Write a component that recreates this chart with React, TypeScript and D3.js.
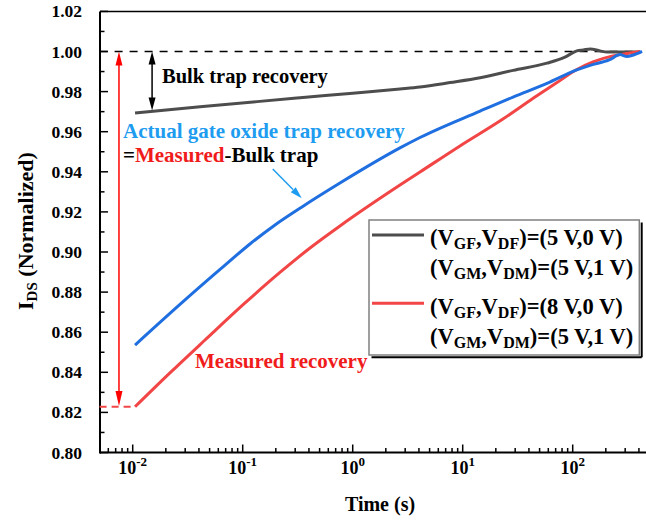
import React from 'react';
import * as d3 from 'd3';

// ---- Data (time in s, normalized I_DS) ----
const blackT = [0.0105, 0.041, 0.135, 0.332, 1.0, 2.69, 4.09, 7.67, 14.4, 28.7, 58.4, 85, 109, 125, 144, 177, 205, 269, 409];
const blackV = [0.9693, 0.9724, 0.975, 0.9769, 0.9792, 0.9813, 0.9823, 0.9845, 0.9869, 0.9906, 0.9942, 0.9972, 1.0003, 1.0008, 1.0013, 1.0003, 0.9997, 0.9998, 0.9997];

const blueT = [0.0105, 0.0299, 0.0622, 0.1164, 0.1966, 0.3458, 0.766, 2.69, 4.09, 14.4, 28.7, 58.4, 109, 144, 217, 269, 312, 384, 427];
const blueV = [0.8536, 0.8761, 0.8913, 0.904, 0.9135, 0.9225, 0.9344, 0.9519, 0.9571, 0.9703, 0.9773, 0.9841, 0.9908, 0.9931, 0.9959, 0.9985, 0.9975, 0.9989, 1.0001];

const redT = [0.0105, 0.0218, 0.0454, 0.105, 0.218, 0.409, 0.766, 1.436, 2.69, 4.09, 9.45, 23.2, 40.9, 72, 109, 153, 232, 312, 409];
const redV = [0.8228, 0.8397, 0.8561, 0.8746, 0.8898, 0.902, 0.913, 0.9234, 0.9334, 0.9399, 0.9529, 0.9663, 0.9756, 0.9845, 0.991, 0.9948, 0.9978, 0.999, 1.0];

const yTicks = [0.8, 0.82, 0.84, 0.86, 0.88, 0.9, 0.92, 0.94, 0.96, 0.98, 1.0, 1.02];
const xTickExps = [-2, -1, 0, 1, 2];

// annotation anchors (data coords)
const refLevel = 1.0;
const redArrowT = 0.0075;
const redArrowBottom = 0.8232;
const blackArrowT = 0.015;
const blackArrowBottom = 0.9706;
const redDashStart = 0.005;
const blueArrowFrom: [number, number] = [0.1875, 0.9414];
const blueArrowTo: [number, number] = [0.344, 0.9268];

const FONT = "'Liberation Serif', 'Times New Roman', Times, serif";
const BLACK = '#4d4d4d';
const BLUE = '#1f6fe0';
const RED = '#f24545';
const TEXTBLUE = '#1e9cf0';
const TEXTRED = '#f01c1c';

function arrowHead(tx: number, ty: number, fx: number, fy: number, len: number, w: number) {
  const dx = tx - fx, dy = ty - fy;
  const L = Math.sqrt(dx * dx + dy * dy);
  const ux = dx / L, uy = dy / L;
  const bx = tx - ux * len, by = ty - uy * len;
  const px = -uy * w / 2, py = ux * w / 2;
  return `M${tx},${ty}L${bx + px},${by + py}L${bx - px},${by - py}Z`;
}

export default function App() {
  const W = 646, H = 523;
  const left = 100, right = 664, top = 11.4, bottom = 452.5;
  const x = d3.scaleLog().domain([0.005, 1000]).range([99.6, 682.7]);
  const y = d3.scaleLinear().domain([0.8, 1.02]).range([bottom, top]);

  const line = d3.line<[number, number]>()
    .x(d => x(d[0]))
    .y(d => y(d[1]))
    .curve(d3.curveMonotoneX);

  const mk = (T: number[], V: number[]) => line(T.map((t, i) => [t, V[i]] as [number, number])) || '';

  const minorX: number[] = [];
  for (let e = -3; e <= 2; e++) {
    for (let k = 2; k <= 9; k++) {
      const t = k * Math.pow(10, e);
      if (t > 0.005 && x(t) < right) minorX.push(t);
    }
  }
  const minorY: number[] = d3.range(0.81, 1.02, 0.02);

  const rax = x(redArrowT);
  const bax = x(blackArrowT);
  const y1 = y(refLevel);

  const bfx = x(blueArrowFrom[0]), bfy = y(blueArrowFrom[1]);
  const btx = x(blueArrowTo[0]), bty = y(blueArrowTo[1]);

  const legendRows = [
    { g1: 'GF', g2: 'DF', val: '=(5 V,0 V)', base: 245 },
    { g1: 'GM', g2: 'DM', val: '=(5 V,1 V)', base: 275 },
    { g1: 'GF', g2: 'DF', val: '=(8 V,0 V)', base: 314 },
    { g1: 'GM', g2: 'DM', val: '=(5 V,1 V)', base: 344 },
  ];

  return (
    <svg width={W} height={H} style={{ position: 'absolute', left: 0, top: 0, background: '#fff' }}
      fontFamily={FONT} fontWeight="bold">
      <rect x={0} y={0} width={W} height={H} fill="#fff" />

      {/* frame */}
      <line x1={left} x2={right} y1={top} y2={top} stroke="#000" strokeWidth={1.5} />
      <line x1={left} x2={right} y1={bottom} y2={bottom} stroke="#000" strokeWidth={2} />
      <line x1={left} x2={left} y1={top} y2={bottom + 1} stroke="#000" strokeWidth={2} />

      {/* x ticks */}
      {xTickExps.map(e => {
        const px = x(Math.pow(10, e));
        return (
          <g key={'xt' + e}>
            <line x1={px} x2={px} y1={bottom} y2={bottom - 8} stroke="#000" strokeWidth={1.5} />
            <text x={px} y={474} textAnchor="middle" fontSize={18}>
              10<tspan fontSize={13} dy={-8}>{String(e)}</tspan>
            </text>
          </g>
        );
      })}
      {minorX.map((t, i) => (
        <line key={'xm' + i} x1={x(t)} x2={x(t)} y1={bottom} y2={bottom - 4.5} stroke="#000" strokeWidth={1.5} />
      ))}

      {/* y ticks */}
      {yTicks.map(v => (
        <g key={'yt' + v}>
          <line x1={left} x2={left + 8} y1={y(v)} y2={y(v)} stroke="#000" strokeWidth={1.5} />
          <text x={82} y={y(v) + 6} textAnchor="end" fontSize={17.5}>{v.toFixed(2)}</text>
        </g>
      ))}
      {minorY.map((v, i) => (
        <line key={'ym' + i} x1={left} x2={left + 4.5} y1={y(v)} y2={y(v)} stroke="#000" strokeWidth={1.5} />
      ))}

      {/* axis titles */}
      <text x={380} y={511} textAnchor="middle" fontSize={20}>Time (s)</text>
      <text transform={`translate(33,231) rotate(-90)`} textAnchor="middle" fontSize={22}>
        I<tspan fontSize={15} dy={4}>DS</tspan><tspan dy={-4}> (Normalized)</tspan>
      </text>

      {/* reference dashed line */}
      <line x1={x(0.005)} x2={x(409)} y1={y1} y2={y1} stroke="#000" strokeWidth={1.5} strokeDasharray="8 7" />
      {/* red dashed at start */}
      <line x1={x(redDashStart)} x2={x(redT[0])} y1={y(redV[0])} y2={y(redV[0])} stroke={RED} strokeWidth={2} strokeDasharray="7 5" />

      {/* curves */}
      <path d={mk(blackT, blackV)} fill="none" stroke={BLACK} strokeWidth={3} strokeLinejoin="round" />
      <path d={mk(redT, redV)} fill="none" stroke={RED} strokeWidth={3} strokeLinejoin="round" />
      <path d={mk(blueT, blueV)} fill="none" stroke={BLUE} strokeWidth={3} strokeLinejoin="round" />

      {/* red double arrow */}
      <line x1={rax} x2={rax} y1={y1 + 12} y2={y(redArrowBottom) - 12} stroke="#ff0000" strokeWidth={1.5} />
      <path d={arrowHead(rax, y1, rax, y1 + 20, 14, 7)} fill="#ff0000" />
      <path d={arrowHead(rax, y(redArrowBottom), rax, y(redArrowBottom) - 20, 15, 7)} fill="#ff0000" />

      {/* black double arrow */}
      <line x1={bax} x2={bax} y1={y1 + 12} y2={y(blackArrowBottom) - 12} stroke="#000" strokeWidth={1.5} />
      <path d={arrowHead(bax, y1, bax, y1 + 20, 13, 7)} fill="#000" />
      <path d={arrowHead(bax, y(blackArrowBottom), bax, y(blackArrowBottom) - 20, 13, 7)} fill="#000" />

      {/* blue arrow */}
      <line x1={bfx} x2={btx - (btx - bfx) * 0.3} y1={bfy} y2={bty - (bty - bfy) * 0.3} stroke={TEXTBLUE} strokeWidth={1.5} />
      <path d={arrowHead(btx, bty, bfx, bfy, 12, 7)} fill={TEXTBLUE} />

      {/* annotations */}
      <text x={162} y={83} fontSize={20.5} fill="#000">Bulk trap recovery</text>
      <text x={123} y={138} fontSize={21} fill={TEXTBLUE}>Actual gate oxide trap recovery</text>
      <text x={123} y={162} fontSize={21} fill="#000">=<tspan fill={TEXTRED}>Measured</tspan>-Bulk trap</text>
      <text x={195} y={368} fontSize={21} fill={TEXTRED}>Measured recovery</text>

      {/* legend */}
      <line x1={371.5} x2={641.7} y1={357.3} y2={357.3} stroke="#000" strokeWidth={2} />
      <line x1={641.7} x2={641.7} y1={222.5} y2={357.3} stroke="#000" strokeWidth={2} />
      <rect x={369} y={220} width={270.3} height={135} fill="#fff" stroke="#808080" strokeWidth={1.5} />
      <line x1={372} x2={424} y1={235} y2={235} stroke={BLACK} strokeWidth={3} />
      <line x1={372} x2={424} y1={303.3} y2={303.3} stroke={RED} strokeWidth={3} />
      {legendRows.map((r, i) => (
        <text key={'lg' + i} x={430} y={r.base} fontSize={22.5} fill="#000">
          (V<tspan fontSize={16} dy={4}>{r.g1}</tspan><tspan dy={-4}>,V</tspan><tspan fontSize={16} dy={4}>{r.g2}</tspan><tspan dy={-4}>){r.val}</tspan>
        </text>
      ))}
    </svg>
  );
}
